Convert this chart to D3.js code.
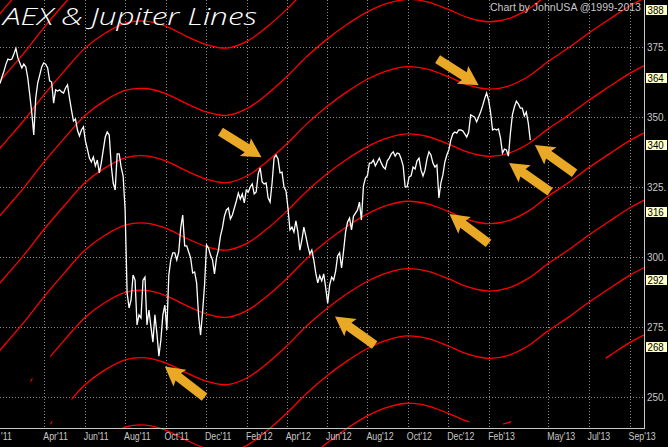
<!DOCTYPE html>
<html><head><meta charset="utf-8">
<script src="https://cdn.jsdelivr.net/npm/d3@7"></script>
<style>html,body{margin:0;padding:0;background:#000;overflow:hidden}svg{display:block}</style>
</head><body>
<svg id="c" width="668" height="447"></svg>
<script>
// ---------- DATA ----------
const titleText = "AEX & Jupiter Lines";
const creditText = "Chart by JohnUSA @1999-2013";

// AEX closes, one value every 3 calendar days starting 2011-01-24
const priceStart = "2011-01-24";
const priceStepDays = 3;
const aexClose = [
361.9,364.2,366.3,368.8,370.6,370.3,370.6,372.4,374.4,371.0,
369.2,367.4,368.8,367.8,363.8,357.8,351.4,343.5,356.7,362.1,
364.9,367.8,369.2,368.8,367.4,362.8,362.4,354.9,359.6,359.2,
359.6,358.9,358.5,360.3,361.4,356.7,352.4,348.5,349.2,345.3,
343.2,345.3,346.4,341.4,338.5,335.3,333.9,335.7,332.5,334.6,
330.0,333.5,338.2,342.8,344.6,343.5,332.8,326.4,323.9,336.8,
336.8,332.1,328.9,316.8,287.2,281.9,284.7,293.6,291.8,275.8,
279.4,278.3,291.8,292.9,275.8,281.1,275.1,269.7,279.4,272.9,
264.7,270.4,279.4,282.9,274.0,293.6,299.0,301.5,301.5,299.0,
301.8,310.4,315.0,304.0,304.0,301.8,299.7,294.3,294.7,290.8,
279.0,272.2,280.4,290.1,304.3,303.2,300.7,299.0,294.0,299.7,
302.5,307.5,310.4,314.6,316.8,317.5,313.6,315.0,317.5,320.0,
322.8,320.7,322.5,319.3,323.9,323.2,325.0,326.1,322.5,323.2,
329.6,331.8,326.8,326.1,326.4,321.1,319.6,326.4,335.3,336.4,
335.0,330.0,330.3,325.0,323.6,317.5,309.7,310.7,308.9,312.9,
308.9,302.5,306.1,310.7,307.5,304.0,301.1,302.5,299.0,294.3,
290.8,293.3,291.5,294.0,289.0,283.6,290.1,292.9,291.8,295.0,
300.4,301.5,296.1,302.2,308.9,312.5,313.9,309.7,314.6,315.7,
316.8,319.6,313.2,325.3,328.2,329.0,333.5,333.5,334.6,332.5,
333.9,335.3,333.5,332.1,331.4,334.3,335.3,336.8,337.5,336.0,
337.1,336.8,335.0,332.5,325.0,325.0,328.6,329.0,332.1,331.4,
334.3,335.3,331.0,328.9,331.0,335.0,337.5,336.4,333.5,332.1,
332.8,321.1,326.4,329.3,333.9,336.4,338.2,341.7,343.9,344.6,
344.2,345.3,345.3,345.0,343.9,342.8,344.6,350.7,350.3,349.9,
348.2,349.9,351.7,353.9,356.4,358.5,356.0,351.7,345.3,345.7,
345.3,345.7,342.5,337.1,338.5,338.2,336.0,344.2,350.7,353.5,
355.6,354.6,353.1,353.1,350.3,351.7,347.8,341.7
];

// Jupiter base line, first of each month
const jupiterDates = [
"2011-01-01","2011-02-01","2011-03-01","2011-04-01","2011-05-01","2011-06-01",
"2011-07-01","2011-08-01","2011-09-01","2011-10-01","2011-11-01","2011-12-01",
"2012-01-01","2012-02-01","2012-03-01","2012-04-01","2012-05-01","2012-06-01",
"2012-07-01","2012-08-01","2012-09-01","2012-10-01","2012-11-01","2012-12-01",
"2013-01-01","2013-02-01","2013-03-01","2013-04-01","2013-05-01","2013-06-01",
"2013-07-01","2013-08-01","2013-09-01","2013-10-01"];
const jupiterBase = [
188.4,197.0,204.7,214.0,222.3,230.4,235.7,239.4,240.1,238.3,234.8,231.8,
230.5,232.9,237.8,244.3,251.4,257.7,262.9,267.4,270.5,271.9,270.9,268.3,
265.3,263.9,264.9,268.4,273.7,278.6,283.8,288.7,293.5,297.2];
const lineSpacing = 24;
const lineOffsets = [-1,0,1,2,3,4,5,6,7,8];
const lineSegments = [
  [["2012-05-01","2013-01-02"],["2013-02-22","2013-03-06"],["2013-07-27","2013-10-01"]],
  [["2011-07-28","2013-10-01"]],
  [["2011-04-10","2011-04-13"],["2011-05-12","2013-10-01"]],
  [["2011-03-11","2011-03-14"],["2011-04-10","2013-10-01"]],
  [["2011-01-01","2013-10-01"]],
  [["2011-01-01","2013-10-01"]],
  [["2011-01-01","2013-10-01"]],
  [["2011-01-01","2013-10-01"]],
  [["2011-01-01","2013-10-01"]],
  [["2011-01-01","2013-10-01"]]
];
const levelLabels = [388,364,340,316,292,268];

const yTicks = [250,275,300,325,350,375];
const xTickDates = ["2011-01-27","2011-04-01","2011-06-01","2011-08-01","2011-10-01","2011-12-01",
  "2012-02-01","2012-04-01","2012-06-01","2012-08-01","2012-10-01","2012-12-01",
  "2013-02-01","2013-05-01","2013-07-01","2013-09-01"];
const xTickLabels = ["'11","Apr'11","Jun'11","Aug'11","Oct'11","Dec'11",
  "Feb'12","Apr'12","Jun'12","Aug'12","Oct'12","Dec'12",
  "Feb'13","May'13","Jul'13","Sep'13"];
const xGridFrom = "2011-04-01";

// annotation arrows: tip and tail (date, value)
const arrowTipDates  = ["2013-01-16","2012-02-23","2013-04-11","2013-03-03","2012-12-03","2012-06-13","2011-09-30"];
const arrowTipValues = [361.3,335.6,340.0,333.5,315.4,278.8,261.0];
const arrowTailDates = ["2012-11-15","2011-12-23","2013-06-10","2013-05-04","2013-01-31","2012-08-12","2011-11-29"];
const arrowTailValues= [370.6,344.7,329.9,323.3,304.9,268.7,250.1];

// ---------- CHART ----------
const W = 668, H = 447, plotR = 644, plotB = 428;
const parse = d3.utcParse("%Y-%m-%d");
const svg = d3.select("#c");
svg.append("rect").attr("width", W).attr("height", H).attr("fill", "#000");

const x = d3.scaleUtc().domain([parse("2011-01-24"), parse("2013-10-20")]).range([0, 662]);
const y = d3.scaleLinear().domain([239.07, 391.65]).range([plotB, 0]);

const gridColor = "#8a8a8a";
svg.append("g").selectAll("line").data(yTicks).join("line")
  .attr("x1", 0).attr("x2", plotR).attr("y1", d => Math.round(y(d)) + 0.5).attr("y2", d => Math.round(y(d)) + 0.5)
  .attr("stroke", gridColor).attr("stroke-width", 1).attr("stroke-dasharray", "1,2");
const xt = xTickDates.map(parse);
svg.append("g").selectAll("line").data(xt.filter(d => d >= parse(xGridFrom))).join("line")
  .attr("x1", d => Math.round(x(d)) + 0.5).attr("x2", d => Math.round(x(d)) + 0.5)
  .attr("y1", 0).attr("y2", plotB)
  .attr("stroke", gridColor).attr("stroke-width", 1).attr("stroke-dasharray", "1,2");

// Jupiter lines
const jd = jupiterDates.map(parse);
const lineGen = d3.line().x(d => x(d.d)).y(d => y(d.v)).curve(d3.curveCatmullRom.alpha(0.5));
const defs = svg.append("defs");
lineOffsets.forEach((k, i) => {
  const cp = defs.append("clipPath").attr("id", "clip" + i);
  lineSegments[i].forEach(s => {
    const a = Math.max(0, x(parse(s[0]))), b = Math.min(plotR, x(parse(s[1])));
    if (b > a) cp.append("rect").attr("x", a).attr("y", 0).attr("width", b - a).attr("height", H);
  });
  const pts = jd.map((d, j) => ({d, v: jupiterBase[j] + lineSpacing * k}));
  svg.append("path").datum(pts).attr("d", lineGen)
    .attr("fill", "none").attr("stroke", "#ff0000").attr("stroke-width", 1.3)
    .attr("clip-path", "url(#clip" + i + ")");
});

// AEX price
const p0 = parse(priceStart);
const priceData = aexClose.map((v, i) => ({d: d3.utcDay.offset(p0, i * priceStepDays), v}));
svg.append("path").datum(priceData)
  .attr("d", d3.line().x(d => x(d.d)).y(d => y(d.v)))
  .attr("fill", "none").attr("stroke", "#ffffff").attr("stroke-width", 1.3);

// arrows
const arrowColor = "#e9a825";
arrowTipDates.forEach((td, i) => {
  const tx = x(parse(td)), ty = y(arrowTipValues[i]);
  const bx = x(parse(arrowTailDates[i])), by = y(arrowTailValues[i]);
  const L = Math.hypot(tx - bx, ty - by);
  const ang = Math.atan2(ty - by, tx - bx) * 180 / Math.PI;
  const Hh = 19, Wh = 10.5, S = 4.6;
  const poly = [[0,0],[-Hh,Wh],[-Hh+2,S],[-L,S],[-L,-S],[-Hh+2,-S],[-Hh,-Wh]];
  svg.append("path").attr("d", "M" + poly.map(p => p.join(",")).join("L") + "Z")
    .attr("transform", `translate(${tx},${ty}) rotate(${ang})`)
    .attr("fill", arrowColor);
});

// axes lines
svg.append("line").attr("x1", plotR + 0.5).attr("x2", plotR + 0.5).attr("y1", 0).attr("y2", plotB + 1)
  .attr("stroke", "#c8c8c8");
svg.append("line").attr("x1", 0).attr("x2", plotR + 1).attr("y1", plotB + 0.5).attr("y2", plotB + 0.5)
  .attr("stroke", "#c8c8c8");

const labelFont = "'Liberation Sans', Arial, sans-serif";
function squeeze(sel, f) {
  sel.each(function() {
    const w = this.getComputedTextLength();
    d3.select(this).attr("textLength", w * f).attr("lengthAdjust", "spacingAndGlyphs");
  });
}
const yl = svg.append("g").selectAll("text").data(yTicks).join("text")
  .attr("x", 647).attr("y", d => y(d)).attr("dy", "0.36em")
  .attr("fill", "#c8c8c8").attr("font-family", labelFont).attr("font-size", 11)
  .text(d => d + ".");
squeeze(yl, 0.9);
const lb = svg.append("g").selectAll("g").data(levelLabels).join("g");
lb.append("rect").attr("x", 646).attr("y", d => Math.round(y(d)) - 5).attr("width", 21).attr("height", 10)
  .attr("fill", "#ffffc8");
const lt = lb.append("text").attr("x", 647.5).attr("y", d => Math.round(y(d))).attr("dy", "0.36em")
  .attr("fill", "#000").attr("font-family", labelFont).attr("font-size", 11).text(d => d);
squeeze(lt, 0.88);

const xl = svg.append("g").selectAll("text").data(xt).join("text")
  .attr("x", d => Math.max(1, x(d) - 1)).attr("y", 440)
  .attr("fill", "#c8c8c8").attr("font-family", labelFont).attr("font-size", 11)
  .text((d, i) => xTickLabels[i]);
squeeze(xl, 0.8);

// title & credit
svg.append("text").attr("x", 3).attr("y", 25).attr("fill", "#fff")
  .attr("font-family", "'DejaVu Sans ExtraLight', 'Open Sans', sans-serif").attr("font-weight", 300).attr("font-style", "italic")
  .attr("font-size", 23).attr("textLength", 254).attr("lengthAdjust", "spacingAndGlyphs")
  .text(titleText);
svg.append("text").attr("x", 641).attr("y", 11).attr("text-anchor", "end").attr("fill", "#c8c8c8")
  .attr("font-family", labelFont).attr("font-size", 11)
  .attr("textLength", 151).attr("lengthAdjust", "spacingAndGlyphs")
  .text(creditText);
</script>
</body></html>
